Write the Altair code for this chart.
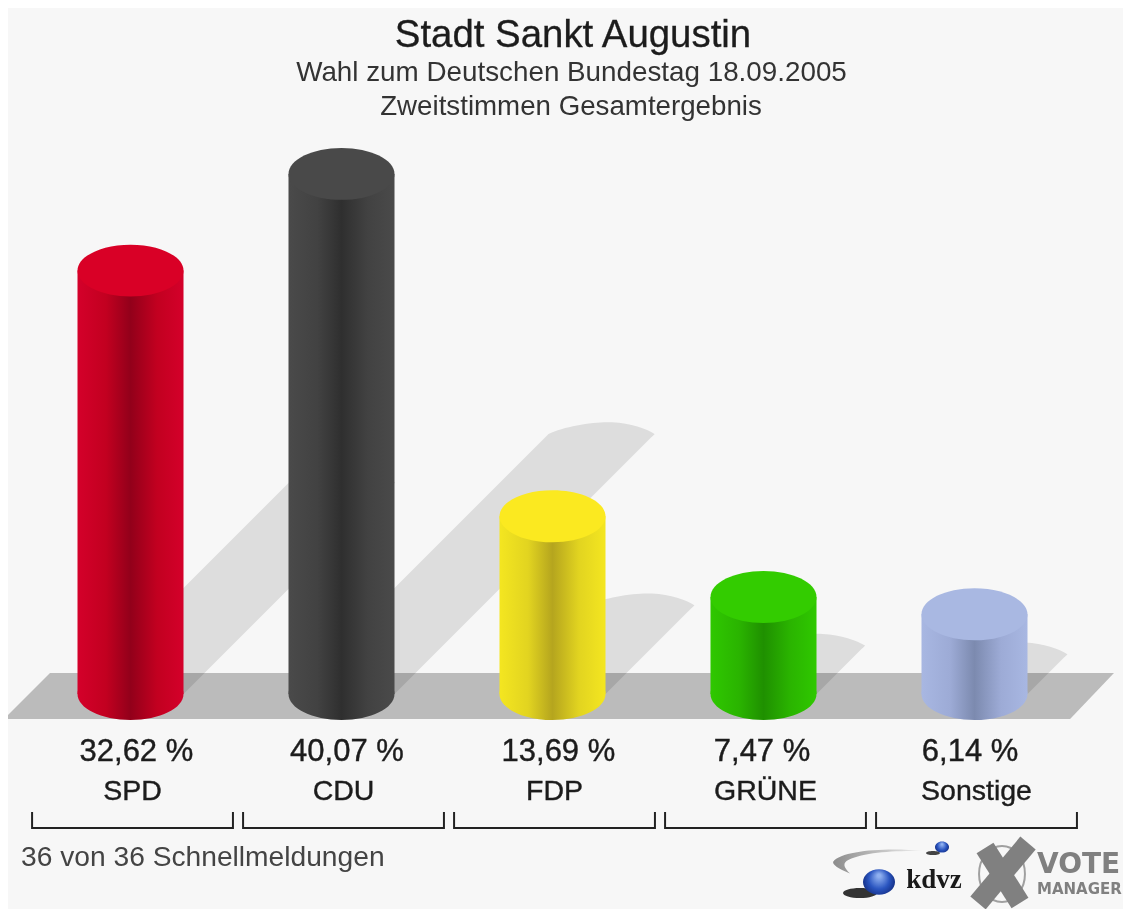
import altair as alt
import pandas as pd

# --- data ---
parties = ["SPD", "CDU", "FDP", "GRÜNE", "Sonstige"]
values = [32.62, 40.07, 13.69, 7.47, 6.14]
positions = [0, 1, 2, 3, 4]
label_shift = [0.028, 0.026, 0.028, -0.007, -0.021]
top_colors = ["#d90026", "#494949", "#fbe920", "#33cc00", "#a9b8e2"]
edge_colors = ["#d4002a", "#4a4a4a", "#f4e620", "#2fc800", "#a8b7e2"]
mid_colors = ["#c20020", "#424242", "#e2d420", "#2ab400", "#9dabd6"]
dark_colors = ["#92001a", "#2f2f2f", "#b5a51e", "#1f9000", "#7c8aaf"]
title_lines = ["Stadt Sankt Augustin", "Wahl zum Deutschen Bundestag 18.09.2005", "Zweitstimmen Gesamtergebnis"]
footer = "36 von 36 Schnellmeldungen"
shadow_ratio = 0.5
px_per_pct = 12.98
px_per_step = 211.0

W, H = 1115, 901
xs = alt.Scale(domain=[-0.5806, 4.7038], range=[0, W], nice=False, zero=False)
ys = alt.Scale(domain=[-16.56, 52.85], range=[H, 0], nice=False, zero=False)
X = lambda f: alt.X(f, type="quantitative", scale=xs, axis=None)
Y = lambda f: alt.Y(f, type="quantitative", scale=ys, axis=None)
half = 0.2512
ELL_TOP = "M -1 0 A 1 0.49 0 1 1 1 0 A 1 0.49 0 1 1 -1 0 Z"
ELL_SHADOW = "M -1 0 C -0.7 -0.15 -0.1 -0.24 0.2 -0.22 C 0.55 -0.2 0.85 -0.1 1 0 L 0.95 0.05 L -0.95 0.05 Z"
CYL_SIZE = 106 ** 2
SANS = "Liberation Sans"

base = pd.DataFrame({"party": parties, "value": values, "pos": positions, "shift": label_shift})
base["zero"] = 0.0
base["left"] = base["pos"] - half
base["right"] = base["pos"] + half
base["label"] = [f"{v:.2f} %".replace(".", ",") for v in values]
base["vpos"] = base["pos"] + base["shift"]
base["npos"] = base["pos"] + 0.0095
base["blo"] = base["npos"] - 0.476
base["bhi"] = base["npos"] + 0.476
base["sy"] = base["value"] * shadow_ratio
base["sx"] = base["pos"] + base["sy"] * px_per_pct / px_per_step

layers = []

# shadows (below the floor, the floor multiplies over them)
SHADOW = "#dddddd"
for _, r in base.iterrows():
    band = pd.DataFrame({"y": [0.0, r["sy"]], "a": [r["left"], r["sx"] - half], "b": [r["right"], r["sx"] + half]})
    layers.append(alt.Chart(band).mark_area(orient="horizontal", color=SHADOW, opacity=1).encode(
        y=Y("y"), x=X("a"), x2=alt.X2("b")))
layers.append(alt.Chart(base).mark_point(shape=ELL_SHADOW, filled=True, fill=SHADOW, opacity=1, strokeWidth=0, size=CYL_SIZE).encode(
    x=X("sx"), y=Y("sy")))

# floor
floor_top, floor_bottom = 1.62, -1.93
floor = pd.DataFrame({"y": [floor_bottom, floor_top], "a": [-0.5995, -0.3815], "b": [4.453, 4.661]})
layers.append(alt.Chart(floor).mark_area(orient="horizontal", color="#c1c1c1", opacity=1, blend="multiply").encode(
    y=Y("y"), x=X("a"), x2=alt.X2("b")))

# cylinders
for i, r in base.iterrows():
    grad = alt.LinearGradient(gradient="linear", x1=0, x2=1, y1=0, y2=0, stops=[
        alt.GradientStop(offset=0, color=edge_colors[i]),
        alt.GradientStop(offset=0.27, color=mid_colors[i]),
        alt.GradientStop(offset=0.5, color=dark_colors[i]),
        alt.GradientStop(offset=0.75, color=mid_colors[i]),
        alt.GradientStop(offset=1, color=edge_colors[i]),
    ])
    one = base.iloc[[i]]
    layers.append(alt.Chart(one).mark_point(shape=ELL_TOP, filled=True, fill=grad, opacity=1, strokeWidth=0, size=CYL_SIZE).encode(
        x=X("pos"), y=Y("zero")))
    layers.append(alt.Chart(one).mark_bar(fill=grad, opacity=1, strokeWidth=0).encode(
        x=X("left"), x2=alt.X2("right"), y=Y("value"), y2=alt.Y2("zero")))
    layers.append(alt.Chart(one).mark_point(shape=ELL_TOP, filled=True, fill=top_colors[i], opacity=1, strokeWidth=0, size=CYL_SIZE).encode(
        x=X("pos"), y=Y("value")))

# labels under the bars
layers.append(alt.Chart(base).mark_text(font=SANS, fontSize=31, color="#1c1c1c", baseline="alphabetic", align="center", stroke="#1c1c1c", strokeWidth=0.4).encode(
    x=X("vpos"), y=alt.value(753), text="label:N"))
layers.append(alt.Chart(base).mark_text(font=SANS, fontSize=28.5, color="#1c1c1c", baseline="alphabetic", align="center", stroke="#1c1c1c", strokeWidth=0.4).encode(
    x=X("npos"), y=alt.value(792), text="party:N"))

# brackets
layers.append(alt.Chart(base).mark_rule(color="#222222", strokeWidth=2).encode(
    x=X("blo"), x2=alt.X2("bhi"), y=alt.value(820)))
for f in ["blo", "bhi"]:
    layers.append(alt.Chart(base).mark_rule(color="#222222", strokeWidth=2).encode(
        x=X(f), y=alt.value(804), y2=alt.value(821)))

# titles
one_row = pd.DataFrame({"a": [0]})
def text(t, x, y, size, color="#1c1c1c", align="center", font=SANS, weight="normal", stroke=0.0):
    return alt.Chart(one_row).mark_text(text=t, font=font, fontSize=size, color=color, align=align, baseline="alphabetic",
                                        fontWeight=weight, stroke=color, strokeWidth=stroke).encode(x=alt.value(x), y=alt.value(y))
layers.append(text(title_lines[0], 565, 39, 38.4, stroke=0.3))
layers.append(text(title_lines[1], 563.5, 73, 27.8, color="#333333"))
layers.append(text(title_lines[2], 563, 107, 27.7, color="#333333"))
layers.append(text(footer, 13, 858, 28.2, color="#444444", align="left"))

# logo marks
def blob(x, y, size, shape, fill):
    return alt.Chart(one_row).mark_point(shape=shape, filled=True, fill=fill, opacity=1, strokeWidth=0, size=size).encode(
        x=alt.value(x), y=alt.value(y))
def stick(x, y, x2, y2, width, color="#808080"):
    return alt.Chart(one_row).mark_rule(color=color, strokeWidth=width).encode(
        x=alt.value(x), y=alt.value(y), x2=alt.value(x2), y2=alt.value(y2))

sphere = alt.RadialGradient(gradient="radial", x1=0.5, y1=0.3, r1=0.05, x2=0.5, y2=0.5, r2=0.6, stops=[
    alt.GradientStop(offset=0, color="#8fb0f0"),
    alt.GradientStop(offset=0.5, color="#2a55c0"),
    alt.GradientStop(offset=1, color="#0a1e6a"),
])
ELL_LOGO = "M -1 0 A 1 0.8 0 1 1 1 0 A 1 0.8 0 1 1 -1 0 Z"
ELL_FLAT = "M -1 0 A 1 0.3 0 1 1 1 0 A 1 0.3 0 1 1 -1 0 Z"
SWOOSH = "M 1 -0.22 C 0.3 -0.3 -0.8 -0.25 -1 0.02 C -1 0.12 -0.75 0.22 -0.62 0.28 C -0.72 0.18 -0.8 0.08 -0.7 0 C -0.4 -0.18 0.3 -0.24 1 -0.22 Z"
swoosh_fill = alt.LinearGradient(gradient="linear", x1=0, x2=1, y1=0, y2=0, stops=[
    alt.GradientStop(offset=0, color="#8c8c8c"),
    alt.GradientStop(offset=1, color="#f0f0f0"),
])
layers.append(blob(870, 853, 90 ** 2, SWOOSH, swoosh_fill))
layers.append(blob(852, 885, 34 ** 2, ELL_FLAT, "#333333"))
layers.append(blob(871, 874, 32 ** 2, ELL_LOGO, sphere))
layers.append(blob(925, 845, 14 ** 2, ELL_FLAT, "#444444"))
layers.append(blob(934, 839, 14 ** 2, ELL_LOGO, sphere))
layers.append(text("kdvz", 926, 880, 27, color="#1a1a1a", font="Liberation Serif", weight="bold"))

RING = "M -0.82 0 A 0.82 1 0 1 1 0.82 0 A 0.82 1 0 1 1 -0.82 0 Z"
layers.append(alt.Chart(one_row).mark_point(shape=RING, filled=False, stroke="#a0a0a0", strokeWidth=2, opacity=1, size=56 ** 2).encode(
    x=alt.value(994), y=alt.value(866)))
layers.append(stick(977, 840, 1012, 895, 20))
layers.append(stick(1020, 835, 970, 895, 20))
layers.append(text("VOTE", 1029, 865, 28, color="#808080", align="left", font="DejaVu Sans", weight="bold"))
layers.append(text("MANAGER", 1029, 886, 15, color="#808080", align="left", font="DejaVu Sans", weight="bold"))

chart = alt.layer(*layers).properties(
    width=W, height=H, padding=0, autosize="none", background="#f7f7f7"
).configure_view(stroke=None)

chart.save("out.html", embed_options={"renderer": "svg", "actions": False})
